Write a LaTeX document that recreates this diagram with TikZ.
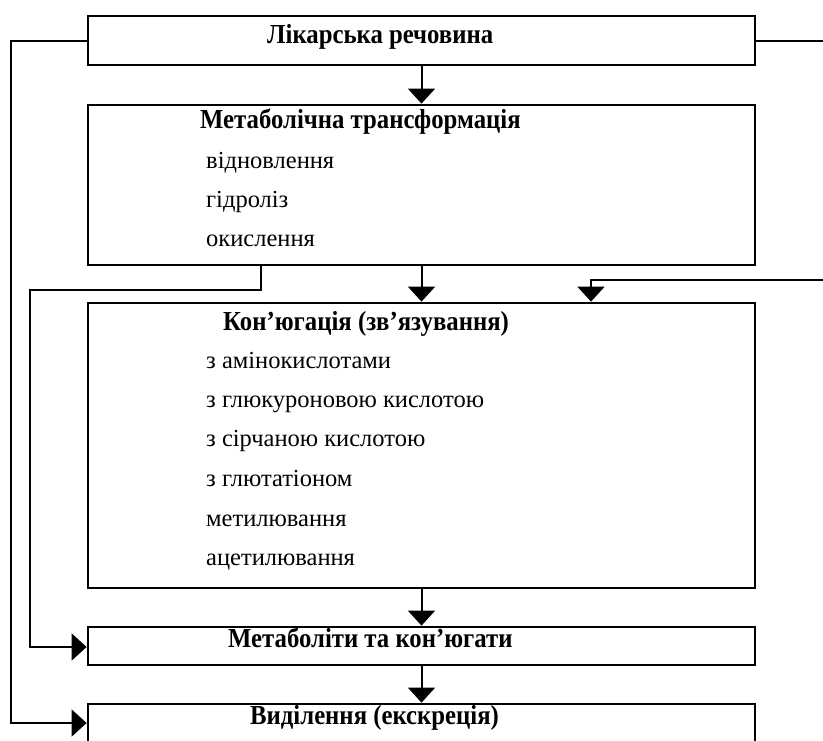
\documentclass[tikz,border=0pt]{standalone}
\usepackage{fontspec}
\setmainfont{Liberation Serif}
\newfontfamily\headfont[FakeStretch=0.9]{Liberation Serif}
\usetikzlibrary{positioning, arrows.meta}
\tikzset{
box/.style={draw, line width=2.8pt, minimum width=667pt, inner sep=0pt}, % the frames of the scheme
title/.style={anchor=base west, inner sep=0pt, font=\headfont\fontsize{27.5}{32}\selectfont\bfseries}, % bold headings
item/.style={anchor=base west, inner sep=0pt, font=\fontsize{24.5}{29}\selectfont}, % list lines inside a frame
line/.style={line width=2pt}, % plain connectors
arrow/.style={line, -{Triangle[width=27pt,length=15pt]}}, % connectors with a filled head
}
\begin{document}
\begin{tikzpicture}[x=1pt, y=-1pt]
    \useasboundingbox (0,0) rectangle (823,740);
    \clip (0,0) rectangle (823,740);
    \node[box, minimum height=49pt] (drug) at (421.5,40.5) {};
    \node[box, minimum height=160pt] (meta) at (421.5,185) {};
    \node[box, minimum height=285pt] (conj) at (421.5,445.5) {};
    \node[box, minimum height=38pt] (prod) at (421.5,646) {};
    \node[box, minimum height=60pt] (excr) at (421.5,734) {};
    \node[title] (drugtxt) at (267,43) {Лікарська речовина};
    \node[title] (metatxt) at (200,128) {Метаболічна трансформація};
    \node[item] (red) at (206,168) {відновлення};
    \node[item] (hyd) at (206,207) {гідроліз};
    \node[item] (oxi) at (206,246) {окислення};
    \node[title] (conjtxt) at (223,330) {Кон’югація (зв’язування)};
    \node[item] (amino) at (206,368) {з амінокислотами};
    \node[item] (gluc) at (206,407) {з глюкуроновою кислотою};
    \node[item] (sulf) at (206,446) {з сірчаною кислотою};
    \node[item] (glut) at (206,486) {з глютатіоном};
    \node[item] (meth) at (206,526) {метилювання};
    \node[item] (acet) at (206,565) {ацетилювання};
    \node[title] (prodtxt) at (228,647) {Метаболіти та кон’югати};
    \node[title] (excrtxt) at (250,724) {Виділення (екскреція)};
    \coordinate (outer) at (11,723);
    \coordinate (split) at (261,290);
    \coordinate (inner) at (30,647);
    \coordinate (edge) at (830,280);
    \coordinate (drop) at (591,280);
    \draw[arrow] (drug) -- (meta);
    \draw[arrow] (meta) -- (conj);
    \draw[arrow] (conj) -- (prod);
    \draw[arrow] (prod) -- (excr);
    \draw[arrow] (drug.west) -| (outer) -- (outer -| excr.west);
    \draw[arrow] (split |- meta.south) -- (split) -| (inner) -- (inner -| prod.west);
    \draw[line] (drug.east) -- (drug.east -| edge);
    \draw[arrow] (edge) -- (drop) -- (drop |- conj.north);
\end{tikzpicture}
\end{document}
